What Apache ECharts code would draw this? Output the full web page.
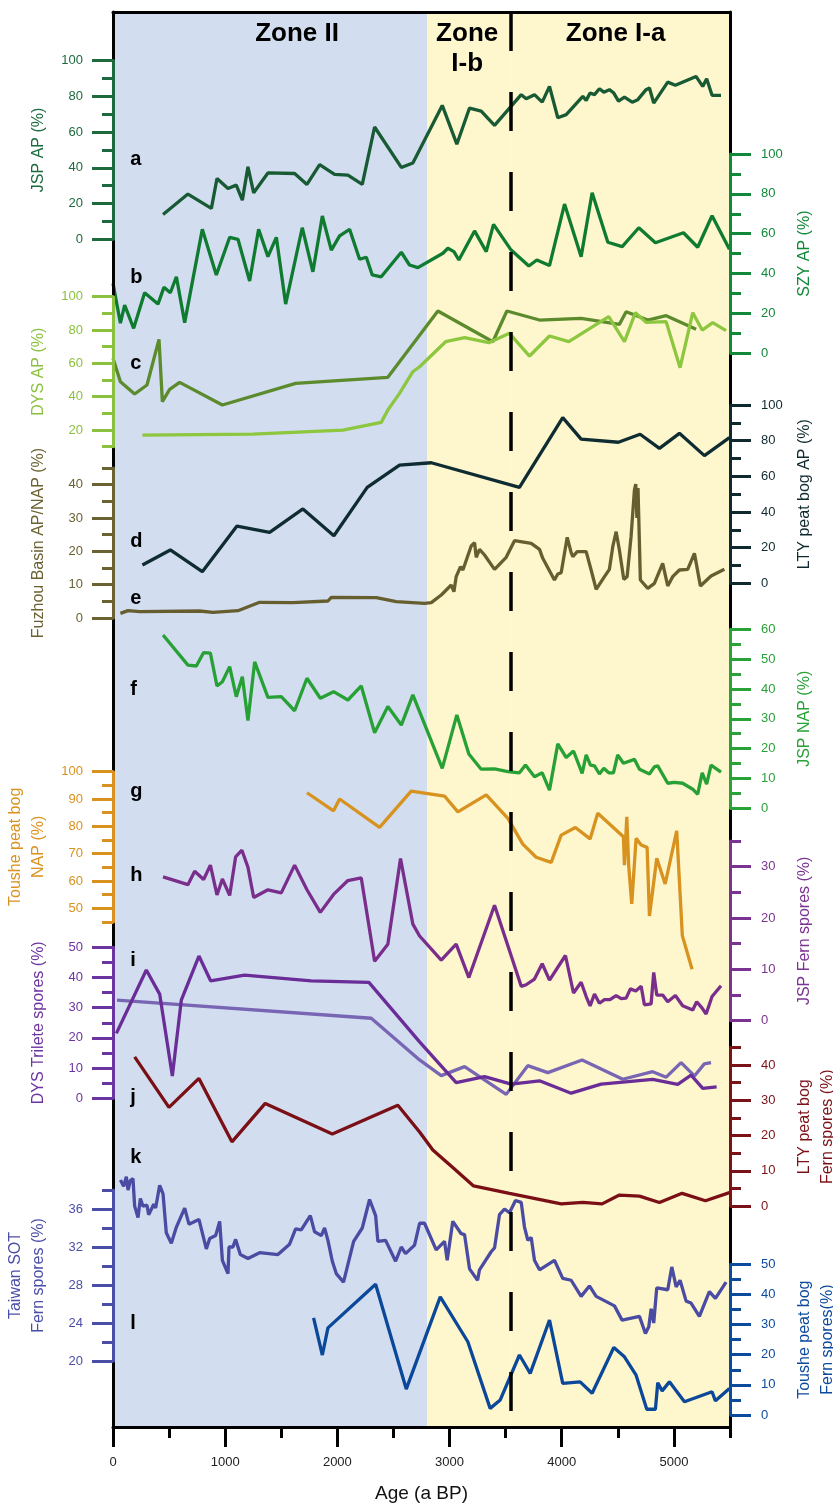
<!DOCTYPE html>
<html><head><meta charset="utf-8">
<script src="https://cdn.jsdelivr.net/npm/echarts@6/dist/echarts.min.js"></script>
<style>html,body{margin:0;padding:0;background:#fff}#c{width:833px;height:1508px}</style>
</head><body><div id="c"></div>
<script>
// ---------- DATA ----------
const ageMajor = [0, 1000, 2000, 3000, 4000, 5000];
const ageMinor = [500, 1500, 2500, 3500, 4500, 5500];
const zoneLimits = [0, 2800, 3550, 5500];
const zoneNames = ['Zone II', 'Zone\nI-b', 'Zone I-a'];
const zoneBoundary = 3550;

// tick label arrays (major) and minor ticks
const ticks0to100 = [0, 20, 40, 60, 80, 100];
const minor0to100 = [10, 30, 50, 70, 90];
const dysApTicks = [20, 40, 60, 80, 100];
const dysApMinor = [10, 30, 50, 70, 90];
const fuzhouTicks = [0, 10, 20, 30, 40];
const fuzhouMinor = [5, 15, 25, 35, 45];
const jspNapTicks = [0, 10, 20, 30, 40, 50, 60];
const jspNapMinor = [5, 15, 25, 35, 45, 55];
const tousheNapTicks = [50, 60, 70, 80, 90, 100];
const tousheNapMinor = [45, 55, 65, 75, 85, 95];
const jspFernTicks = [0, 10, 20, 30];
const jspFernMinor = [5, 15, 25, 35];
const dysTriTicks = [0, 10, 20, 30, 40, 50];
const dysTriMinor = [5, 15, 25, 35, 45];
const ltyFernTicks = [0, 10, 20, 30, 40];
const ltyFernMinor = [5, 15, 25, 35, 45];
const taiwanTicks = [20, 24, 28, 32, 36];
const taiwanMinor = [22, 26, 30, 34, 38];
const tousheFernTicks = [0, 10, 20, 30, 40, 50];
const tousheFernMinor = [5, 15, 25, 35, 45];

// series [age, value]
const seriesA_jspAP = [[446,13.9],[668,25.3],[877,17.3],[927,34],[1025,28.4],[1099,30.3],[1153,21.9],[1203,40.5],[1254,26],[1381,37.1],[1619,36.8],[1729,30.7],[1842,41.8],[1975,36.3],[2094,35.9],[2222,30.7],[2332,62.8],[2570,40.2],[2673,42.7],[2935,74.9],[3065,53.2],[3178,73.4],[3282,71.7],[3401,63.7],[3639,80.9],[3683,78.6],[3757,80.9],[3826,76.7],[3891,85.5],[3965,68],[4040,69.7],[4188,79.9],[4218,77.7],[4253,81.8],[4292,80.9],[4336,84.2],[4375,82.3],[4425,83.7],[4464,81.8],[4506,77.3],[4559,79.5],[4628,76.7],[4678,78.1],[4752,83.7],[4782,84.6],[4820,76.2],[4945,87.9],[5013,86.1],[5197,91.1],[5257,85.5],[5292,89.8],[5340,80.5],[5420,80.5]];
const seriesB_szyAP = [[0,35.1],[66,15.1],[104,24.2],[184,12.5],[282,30.4],[401,24.7],[454,33.1],[511,30.4],[565,38.4],[639,15.4],[796,62.2],[921,39.3],[1040,58.2],[1114,57.2],[1218,36.3],[1298,62.2],[1381,48.5],[1456,58.2],[1539,24.7],[1687,63],[1782,40.9],[1866,68.9],[1946,51.8],[2020,58.9],[2109,62.2],[2198,47.2],[2258,48.2],[2311,39.3],[2391,38.4],[2570,50.7],[2643,44.3],[2718,43],[2941,50.2],[2985,52.7],[3039,51],[3083,46.8],[3223,61.4],[3327,51],[3392,64.7],[3549,51.8],[3707,43.8],[3778,46.8],[3891,44],[4025,74.9],[4173,48.5],[4271,80.6],[4411,55.7],[4539,53.5],[4687,63],[4835,55.5],[5085,60.5],[5212,53.2],[5340,69],[5495,52.2]];
const seriesC_dark = [[0,63],[66,49],[193,41.6],[303,47],[410,74.4],[440,37],[505,44.4],[594,48.6],[975,35],[1628,48],[2450,51.6],[2896,91.4],[3386,73],[3511,91.4],[3802,86],[4173,87],[4514,83.4],[4574,91],[4767,86],[4931,88.6],[5198,80.4]];
const seriesC_dysAP = [[262,17],[1247,17.6],[2049,20],[2391,24.6],[2450,32],[2554,42],[2673,55],[2733,58],[2965,73],[3134,75.4],[3350,72.4],[3534,78],[3713,64.4],[3891,76.4],[4063,73],[4419,88],[4559,73],[4657,90.4],[4752,84.6],[4931,85],[5055,57.4],[5168,90.4],[5252,80],[5346,84.4],[5465,79.6]];
const seriesD_ltyAP = [[262,10.3],[511,18.7],[796,6.5],[1105,32.1],[1396,28.6],[1693,41.7],[1969,26.7],[2266,53.8],[2554,66.3],[2837,67.6],[3623,53.8],[4009,92.9],[4173,80.9],[4505,79.1],[4699,83.6],[4871,75.7],[5049,84.1],[5272,71.6],[5495,81.7]];
const seriesE_fuzhou = [[66,1.4],[134,2.2],[238,1.9],[772,2.1],[891,1.7],[1114,2.2],[1307,4.7],[1604,4.6],[1916,5.1],[1946,6.2],[2347,6.1],[2525,4.9],[2777,4.4],[2837,4.6],[2926,6.9],[3015,9.9],[3039,7.9],[3059,12.4],[3098,15.4],[3119,14.4],[3193,21.6],[3223,22.6],[3238,18.2],[3267,20.6],[3312,18.9],[3401,14.6],[3505,18.2],[3579,23.2],[3728,22.4],[3802,20.6],[3831,17.9],[3935,11.4],[3965,13.2],[3995,13.6],[4049,24.2],[4084,19.6],[4099,18.4],[4138,19.9],[4218,19.9],[4262,14.4],[4307,8.6],[4381,12.4],[4425,14.6],[4455,21.4],[4485,25.9],[4514,20.4],[4553,11.6],[4583,12.4],[4618,24.4],[4648,38.4],[4660,40.2],[4670,30],[4680,39],[4701,11.4],[4767,8.9],[4826,10.4],[4900,16.4],[4945,9.6],[4989,12.4],[5049,14.4],[5123,14.6],[5183,19.4],[5236,9.6],[5331,12.6],[5450,14.6]];
const seriesF_jspNAP = [[446,58.1],[668,48],[743,47.7],[808,52.2],[868,52],[927,41],[975,42.4],[1040,47.5],[1099,37.4],[1153,44.1],[1203,29.4],[1263,49.1],[1381,37.2],[1500,37.4],[1619,32.7],[1729,43.6],[1848,36.9],[1966,39.1],[2094,36.3],[2213,41],[2332,25.3],[2450,34.1],[2570,27.9],[2673,38],[2935,13.4],[3065,31.3],[3172,18.2],[3282,13.1],[3401,13.2],[3520,12.3],[3623,11.9],[3677,14.5],[3757,10.6],[3826,11.9],[3891,6.1],[3965,21.6],[4040,17],[4105,19.2],[4182,11.7],[4218,17.9],[4256,14.5],[4292,14.2],[4336,11.5],[4375,13.4],[4419,11.9],[4461,11.9],[4499,17.9],[4550,15.1],[4648,16.4],[4693,13.1],[4782,11.5],[4826,13.9],[4856,14.2],[4945,8.4],[5004,8.7],[5078,8.4],[5168,6.4],[5212,4.7],[5252,11.9],[5292,8.1],[5331,14.5],[5420,12.1]];
const seriesG_tousheNAP = [[1729,92.3],[1966,85.7],[2020,90],[2376,79.6],[2658,92.9],[2955,91.1],[3074,85.3],[3327,91.5],[3520,82.9],[3653,73.5],[3772,68.7],[3906,66.8],[3995,76.8],[4122,79.6],[4253,75.4],[4321,84.8],[4550,76.2],[4559,65.8],[4580,83.5],[4597,65.5],[4624,51.6],[4663,75.6],[4708,73.2],[4761,72.3],[4782,47.2],[4847,68.3],[4922,58.9],[5025,78.4],[5075,40],[5162,27.7]];
const seriesH_jspFern = [[446,28],[668,26.5],[728,29.1],[808,27.5],[868,30.3],[927,24.5],[975,27.6],[1040,24.4],[1093,31.9],[1149,33.2],[1203,29.9],[1254,24],[1381,25.5],[1500,24.9],[1619,30.3],[1729,25.5],[1848,21.1],[1966,24.6],[2094,27.3],[2213,27.8],[2332,11.6],[2450,14.9],[2563,31.6],[2673,18.8],[2733,16.5],[2926,11.8],[3059,14.9],[3172,8.4],[3401,22.5],[3639,6.7],[3683,7],[3757,8.1],[3826,11.1],[3891,7.9],[4033,12.7],[4105,5.4],[4173,7.5],[4218,4.7],[4253,2.9],[4292,5.2],[4336,3.4],[4381,4.1],[4430,4.1],[4485,4.9],[4530,4.3],[4574,4.4],[4612,6.2],[4660,5.8],[4708,6.7],[4737,3.1],[4797,3.3],[4820,9.4],[4847,5],[4900,5],[4945,3.7],[5013,4.9],[5078,2.9],[5168,2.1],[5203,3.7],[5250,2.5],[5287,1.3],[5340,4.7],[5420,6.8]];
const seriesI_dysTri = [[30,21.5],[297,42.5],[416,34.5],[529,7.4],[609,32.5],[766,47.1],[870,38.9],[1173,40.8],[1767,38.9],[2281,38.4],[2733,18.7],[3059,5.2],[3312,7.2],[3549,4.7],[3802,5.8],[4084,1.7],[4351,4.7],[4811,6.3],[5034,4.6],[5153,7.7],[5257,3.3],[5381,3.8]];
const seriesI_light = [[36,32.5],[2302,26.5],[2733,12.7],[2926,7.5],[3134,10.5],[3505,1.3],[3697,10.8],[3876,8.5],[4182,12.7],[4544,6.3],[4811,8.8],[4931,7],[5064,11.8],[5183,7.4],[5271,11.4],[5331,11.8]];
const seriesJ_ltyFern = [[193,42.3],[499,28],[766,36.2],[1060,18.2],[1357,29.1],[1955,20.4],[2539,28.6],[2733,21],[2851,15.9],[3029,10.9],[3214,5.7],[3534,3.6],[3995,0.6],[4188,1],[4360,0.6],[4514,3.1],[4693,2.8],[4871,1],[5073,3.6],[5281,1.5],[5495,3.8]];
const seriesK_taiwan = [[66,39.05],[95,38.4],[119,39.4],[134,38],[155,39],[178,39.2],[193,36.3],[223,35.1],[244,37.1],[267,36.3],[303,36.4],[318,35.4],[363,36.5],[380,36.1],[416,38.5],[446,37.6],[475,33.5],[520,32.4],[565,34.1],[639,36.1],[677,34.4],[766,34.9],[832,31.8],[862,32.9],[915,33.2],[951,34.7],[975,30.6],[1025,29.2],[1034,32],[1069,32],[1093,32.8],[1135,31.2],[1203,30.8],[1307,31.4],[1470,31.2],[1574,32.3],[1628,33.9],[1678,33.8],[1759,35.3],[1797,33.6],[1857,33.2],[1886,34],[1916,32.7],[1955,30.5],[1990,29.2],[2055,28.3],[2145,32.6],[2222,34],[2287,37],[2341,35.3],[2361,32.6],[2430,32.7],[2519,30.5],[2570,32],[2608,31.3],[2688,32.2],[2733,34.5],[2777,34.5],[2881,31.7],[2955,32.6],[2979,30.6],[3029,34.7],[3104,33.4],[3134,33.3],[3178,29.7],[3250,28.5],[3267,29.6],[3371,31.5],[3401,31.9],[3445,35.4],[3490,36],[3534,35.6],[3588,36.9],[3639,36.7],[3668,34.1],[3698,32.7],[3728,33],[3757,30.6],[3802,29.6],[3935,30.6],[4009,28.7],[4084,28.5],[4173,26.8],[4247,27.9],[4307,26.8],[4470,25.8],[4538,24.3],[4693,24.7],[4746,22.9],[4776,23.6],[4797,25.5],[4820,24],[4847,27.7],[4945,27.5],[4981,29.9],[5020,27.8],[5055,28.5],[5109,26.3],[5153,26.1],[5227,24.7],[5316,27.3],[5370,26.6],[5465,28.3]];
const seriesL_tousheFern = [[1788,32.2],[1866,19.9],[1916,28.9],[2341,43.4],[2614,8.6],[2917,39.2],[3163,24.3],[3362,2.2],[3452,5],[3623,19.9],[3719,13.8],[3891,31.5],[4009,10.5],[4164,11],[4271,7.2],[4464,22.4],[4559,19.3],[4663,13.2],[4758,1.9],[4835,1.9],[4856,10.7],[4895,8],[4960,11],[5094,4.4],[5340,7.7],[5370,4.7],[5495,8.8]];

// panel letters: [letter, panel index, value on that panel's axis]
const letterAge = 153;
const panelLetters = [['a',0,44.5],['b',1,37.8],['c',2,60.2],['d',4,23.6],['e',3,6],['f',5,39.8],['g',6,92.8],['h',7,28.2],['i',8,45.7],['j',9,30.9],['k',10,41.4],['l',11,30.5]];

// ---------- LAYOUT / STYLE ----------
const FONT = "'Liberation Sans', Arial, Helvetica, sans-serif";
const LEFT = 113, RIGHT = 833 - 730;
const panels = [
  {name:'JSP AP (%)', side:'left', top:60.5, bottom:239.3, min:0, max:100, major:ticks0to100, minor:minor0to100, color:'#1d6a3e',
   lines:[{data:seriesA_jspAP, color:'#175a33'}]},
  {name:'SZY AP (%)', side:'right', top:154, bottom:353.3, min:0, max:100, major:ticks0to100, minor:minor0to100, color:'#12893a',
   lines:[{data:seriesB_szyAP, color:'#0e7b30'}]},
  {name:'DYS AP (%)', side:'left', top:296.7, bottom:446.7, min:10, max:100, major:dysApTicks, minor:dysApMinor, color:'#8cc13f',
   lines:[{data:seriesC_dark, color:'#5b8b2d'},{data:seriesC_dysAP, color:'#8dc63f'}]},
  {name:'Fuzhou Basin AP/NAP (%)', side:'left', top:468, bottom:618, min:0, max:45, major:fuzhouTicks, minor:fuzhouMinor, color:'#6b6233',
   lines:[{data:seriesE_fuzhou, color:'#675e30'}]},
  {name:'LTY peat bog AP (%)', side:'right', top:405, bottom:583.3, min:0, max:100, major:ticks0to100, minor:minor0to100, color:'#0f2a2f',
   lines:[{data:seriesD_ltyAP, color:'#0e2c31'}]},
  {name:'JSP NAP (%)', side:'right', top:629.3, bottom:808.3, min:0, max:60, major:jspNapTicks, minor:jspNapMinor, color:'#29a238',
   lines:[{data:seriesF_jspNAP, color:'#27a135'}]},
  {name:'Toushe peat bog\nNAP (%)', side:'left', top:771.7, bottom:922, min:45, max:100, major:tousheNapTicks, minor:tousheNapMinor, color:'#d9921f',
   lines:[{data:seriesG_tousheNAP, color:'#d8921f'}]},
  {name:'JSP Fern spores (%)', side:'right', top:841, bottom:1020.7, min:0, max:35, major:jspFernTicks, minor:jspFernMinor, color:'#7b3391',
   lines:[{data:seriesH_jspFern, color:'#7a2e8c'}]},
  {name:'DYS Trilete spores (%)', side:'left', top:947.3, bottom:1098.3, min:0, max:50, major:dysTriTicks, minor:dysTriMinor, color:'#6c34a0',
   lines:[{data:seriesI_light, color:'#7866b4'},{data:seriesI_dysTri, color:'#6a2d97'}]},
  {name:'LTY peat bog\nFern spores (%)', side:'right', top:1047.4, bottom:1206, min:0, max:45, major:ltyFernTicks, minor:ltyFernMinor, color:'#7b1218',
   lines:[{data:seriesJ_ltyFern, color:'#7a1016'}]},
  {name:'Taiwan SOT\nFern spores (%)', side:'left', top:1190, bottom:1361, min:20, max:38, major:taiwanTicks, minor:taiwanMinor, color:'#4b4ea6',
   lines:[{data:seriesK_taiwan, color:'#4a4ba3'}]},
  {name:'Toushe peat bog\nFern spores(%)', side:'right', top:1264.3, bottom:1415, min:0, max:50, major:tousheFernTicks, minor:tousheFernMinor, color:'#0c4a9d',
   lines:[{data:seriesL_tousheFern, color:'#0b4899'}]}
];
const BLUE = '#d2ddef', YELLOW = '#fef6cd';

const grids = [], xAxes = [], yAxes = [], series = [];
const noLine = {show:false, onZero:false};
const plain = v => String(v);

// frame grid (index 0)
grids.push({left:LEFT, right:RIGHT, top:12, bottom:81, outerBoundsMode:'none'});
xAxes.push({gridIndex:0, type:'value', min:0, max:5500, position:'bottom', z:10,
  axisLine:{show:true, onZero:false, lineStyle:{color:'#000', width:3}},
  axisTick:{show:true, length:20, customValues:ageMajor, lineStyle:{color:'#000', width:3}},
  axisLabel:{show:true, customValues:ageMajor, formatter:plain, margin:29, fontSize:13, color:'#222', fontFamily:FONT},
  splitLine:{show:false},
  name:'Age (a BP)', nameLocation:'middle', nameGap:57, nameTextStyle:{fontSize:19, color:'#111', fontFamily:FONT}});
xAxes.push({gridIndex:0, type:'value', min:0, max:5500, position:'bottom', z:10, axisLine:noLine,
  axisTick:{show:true, length:11, customValues:ageMinor, lineStyle:{color:'#000', width:3}},
  axisLabel:{show:false}, splitLine:{show:false}});
xAxes.push({gridIndex:0, type:'value', min:0, max:5500, position:'top', z:10,
  axisLine:{show:true, onZero:false, lineStyle:{color:'#000', width:3}}, axisTick:{show:false}, axisLabel:{show:false}, splitLine:{show:false}});
yAxes.push({gridIndex:0, type:'value', min:0, max:1, position:'left', z:10,
  axisLine:{show:true, onZero:false, lineStyle:{color:'#000', width:3}}, axisTick:{show:false}, axisLabel:{show:false}, splitLine:{show:false}});
yAxes.push({gridIndex:0, type:'value', min:0, max:1, position:'right', z:10,
  axisLine:{show:true, onZero:false, lineStyle:{color:'#000', width:3}}, axisTick:{show:false}, axisLabel:{show:false}, splitLine:{show:false}});

// zones + boundary
const zoneColors = [BLUE, YELLOW, YELLOW];
const zoneOffsets = [[27,0],[-2,0],[-5,0]];
series.push({type:'line', xAxisIndex:0, yAxisIndex:0, data:[[0,0],[5500,0]], showSymbol:false, symbol:'none',
  lineStyle:{opacity:0}, silent:true, z:1,
  markArea:{silent:true, data: zoneNames.map((nm, i) => [
    {xAxis:zoneLimits[i], itemStyle:{color:zoneColors[i]},
     label:{show:true, formatter:nm, position:'insideTop', distance:7, offset:zoneOffsets[i], fontSize:26, fontWeight:'bold', lineHeight:30, color:'#000', fontFamily:FONT}},
    {xAxis:zoneLimits[i+1]}
  ])},
  markLine:{silent:true, symbol:'none', label:{show:false},
    lineStyle:{color:'#000', width:3.5, type:[39,41]},
    data:[[{coord:[zoneBoundary,1]},{coord:[zoneBoundary,0]}]]}
});

panels.forEach((p, k) => {
  const gi = grids.length;
  grids.push({left:LEFT, right:RIGHT, top:p.top, height:p.bottom - p.top, outerBoundsMode:'none'});
  const xi = xAxes.length;
  xAxes.push({gridIndex:gi, type:'value', min:0, max:5500, show:false, axisLine:{onZero:false}});
  const yMain = yAxes.length;
  const right = p.side === 'right';
  yAxes.push({gridIndex:gi, type:'value', min:p.min, max:p.max, position:p.side, z:12,
    axisLine:{show:true, onZero:false, lineStyle:{color:p.color, width:3}},
    axisTick:{show:true, length:21, customValues:p.major, lineStyle:{color:p.color, width:3}},
    axisLabel:{show:true, customValues:p.major, formatter:plain, margin:right ? 31 : 30, fontSize:13, color:p.color, fontFamily:FONT},
    splitLine:{show:false},
    name:p.name, nameLocation:'middle', nameGap:63,
    nameTextStyle:{fontSize:16, color:p.color, fontFamily:FONT, lineHeight:23}});
  yAxes.push({gridIndex:gi, type:'value', min:p.min, max:p.max, position:p.side, z:12, axisLine:noLine,
    axisTick:{show:true, length:11, customValues:p.minor, lineStyle:{color:p.color, width:3}},
    axisLabel:{show:false}, splitLine:{show:false}});
  p.xi = xi; p.yMain = yMain;
  p.lines.forEach(ln => {
    series.push({type:'line', xAxisIndex:xi, yAxisIndex:yMain, data:ln.data, showSymbol:false, symbol:'none',
      clip:false, z:3, silent:true, lineStyle:{color:ln.color, width:3.3}, itemStyle:{color:ln.color}});
  });
});

panelLetters.forEach(([letter, pi, v]) => {
  series.push({type:'scatter', xAxisIndex:panels[pi].xi, yAxisIndex:panels[pi].yMain, data:[[letterAge, v]],
    symbolSize:0, silent:true, z:4, clip:false, itemStyle:{color:'#000', opacity:1},
    label:{show:true, formatter:letter, position:'right', distance:0, fontSize:20, fontWeight:'bold', color:'#000', opacity:1, textBorderWidth:0, fontFamily:FONT}});
});

const chart = echarts.init(document.getElementById('c'), null, {renderer:'canvas'});
chart.setOption({animation:false, backgroundColor:'#fff', grid:grids, xAxis:xAxes, yAxis:yAxes, series:series});
</script>
</body></html>
